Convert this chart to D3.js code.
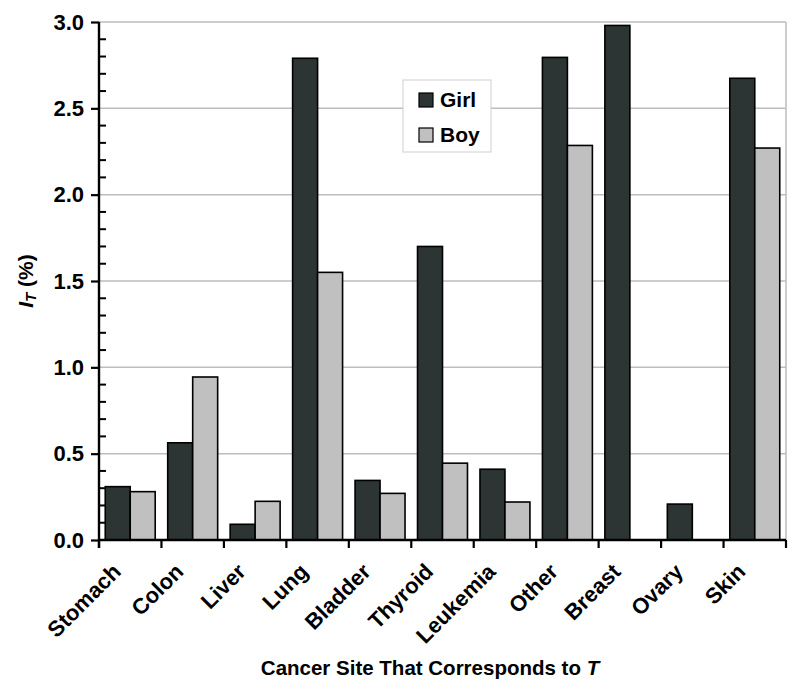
<!DOCTYPE html>
<html><head><meta charset="utf-8">
<script src="https://cdn.jsdelivr.net/npm/d3@7"></script>
<style>body{margin:0;background:#fff}text{font-family:"Liberation Sans",Arial,sans-serif;font-weight:bold}</style>
</head><body><svg id="c" width="800" height="695"></svg>
<script>
const categories=["Stomach","Colon","Liver","Lung","Bladder","Thyroid","Leukemia","Other","Breast","Ovary","Skin"];
const girl=[0.309,0.563,0.091,2.79,0.345,1.70,0.41,2.795,2.98,0.208,2.674];
const boy=[0.28,0.944,0.224,1.55,0.27,0.445,0.22,2.285,null,null,2.27];
const yTicks=[0,0.5,1.0,1.5,2.0,2.5,3.0];
const series=[{name:"Girl",values:girl,color:"#2c3434"},{name:"Boy",values:boy,color:"#c0c0c0"}];

const svg=d3.select("#c");
const L=99,R=786,T=22,B=540;
const x=d3.scaleBand().domain(categories).range([L,R]).paddingInner(0).paddingOuter(0);
const xs=d3.scaleBand().domain(series.map(s=>s.name)).range([0,x.bandwidth()]).paddingInner(0).paddingOuter(0.25);
const y=d3.scaleLinear().domain([0,3]).range([B,T]);

// grid
svg.append("g").selectAll("line").data(yTicks.filter(d=>d>0)).join("line")
  .attr("x1",L).attr("x2",R).attr("y1",d=>y(d)).attr("y2",d=>y(d))
  .attr("stroke","#bdbdbd").attr("stroke-width",1.5);
svg.append("line").attr("x1",R).attr("x2",R).attr("y1",T).attr("y2",B).attr("stroke","#bdbdbd").attr("stroke-width",1.5);

// bars
series.forEach(s=>{
  svg.append("g").selectAll("rect").data(categories.map((c,i)=>({c,v:s.values[i]})).filter(d=>d.v!=null)).join("rect")
    .attr("x",d=>x(d.c)+xs(s.name)).attr("width",xs.bandwidth())
    .attr("y",d=>y(d.v)).attr("height",d=>y(0)-y(d.v))
    .attr("fill",s.color).attr("stroke","#000").attr("stroke-width",1.6);
});

// y axis
const ya=svg.append("g").attr("transform",`translate(${L},0)`);
ya.call(d3.axisLeft(y).tickValues(yTicks).tickFormat(d3.format(".1f")).tickSize(8).tickPadding(7));
ya.select(".domain").remove();
ya.selectAll(".tick line").attr("stroke","#000").attr("stroke-width",2.2);
ya.selectAll(".tick text").attr("font-size",22).attr("font-weight","bold").attr("fill","#000").attr("font-family","Liberation Sans, Arial, sans-serif");
const minor=d3.range(0,3.0001,0.1).filter(v=>Math.abs(v*2-Math.round(v*2))>1e-6);
ya.selectAll(".minor").data(minor).join("line").attr("class","minor")
  .attr("x1",0).attr("x2",7).attr("y1",d=>y(d)).attr("y2",d=>y(d)).attr("stroke","#000").attr("stroke-width",2);
ya.append("line").attr("x1",0).attr("x2",0).attr("y1",T).attr("y2",B+8).attr("stroke","#000").attr("stroke-width",2.4);

// x axis
const xa=svg.append("g").attr("transform",`translate(0,${B})`);
xa.append("line").attr("x1",L).attr("x2",R).attr("y1",0).attr("y2",0).attr("stroke","#000").attr("stroke-width",2.4);
xa.selectAll(".xt").data(d3.range(categories.length+1)).join("line").attr("class","xt")
  .attr("x1",i=>L+i*x.bandwidth()).attr("x2",i=>L+i*x.bandwidth()).attr("y1",0).attr("y2",8)
  .attr("stroke","#000").attr("stroke-width",2.2);
xa.selectAll(".xl").data(categories).join("text").attr("class","xl")
  .attr("transform",d=>`translate(${x(d)+x.bandwidth()/2-8},${33}) rotate(-45)`)
  .attr("text-anchor","end").attr("font-size",22).text(d=>d);

// axis titles
const yt=svg.append("text").attr("transform","translate(33,281) rotate(-90)").attr("text-anchor","middle").attr("font-size",21);
yt.append("tspan").attr("font-style","italic").text("I");
yt.append("tspan").attr("font-style","italic").attr("font-size",15).attr("dy",3).text("T");
yt.append("tspan").attr("dy",-3).text(" (%)");

const xt=svg.append("text").attr("x",430).attr("y",675).attr("text-anchor","middle").attr("font-size",20.5);
xt.append("tspan").text("Cancer Site That Corresponds to ");
xt.append("tspan").attr("font-style","italic").text("T");

// legend
const lg=svg.append("g");
lg.append("rect").attr("x",403).attr("y",80).attr("width",88).attr("height",72).attr("fill","#fff").attr("stroke","#d0d0d0").attr("stroke-width",1);
series.forEach((s,i)=>{
  lg.append("rect").attr("x",419).attr("y",93+i*35).attr("width",14).attr("height",14).attr("fill",s.color).attr("stroke","#000").attr("stroke-width",1.2);
  lg.append("text").attr("x",440).attr("y",107+i*35).attr("font-size",21).text(s.name);
});
</script></body></html>
